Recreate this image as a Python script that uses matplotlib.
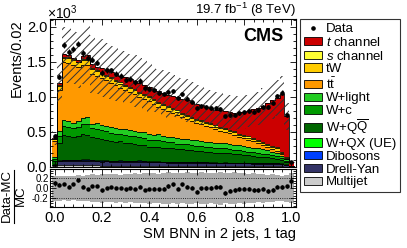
import numpy as np
import matplotlib
matplotlib.use("Agg")
import matplotlib.pyplot as plt
from matplotlib.patches import Patch
from matplotlib.lines import Line2D
from matplotlib.ticker import MultipleLocator, FuncFormatter

plt.rcParams['font.family'] = ['Liberation Sans', 'DejaVu Sans']
plt.rcParams['mathtext.fontset'] = 'custom'
plt.rcParams['mathtext.rm'] = 'Liberation Sans'
plt.rcParams['mathtext.it'] = 'Liberation Sans:italic'
plt.rcParams['axes.unicode_minus'] = False
plt.rcParams['hatch.linewidth'] = 0.7

# -------------------------------
# data: events per bin, in units of 10^3
# -------------------------------
multijet = [0.010, 0.025, 0.025, 0.025, 0.024, 0.024, 0.023, 0.023, 0.022, 0.022,
            0.021, 0.021, 0.020, 0.020, 0.020, 0.019, 0.019, 0.018, 0.018, 0.018,
            0.017, 0.017, 0.016, 0.016, 0.016, 0.015, 0.015, 0.015, 0.014, 0.014,
            0.014, 0.013, 0.013, 0.013, 0.012, 0.012, 0.012, 0.012, 0.011, 0.011,
            0.011, 0.011, 0.010, 0.010, 0.010, 0.010, 0.010, 0.009, 0.009, 0.006,
            0.001]
drell_yan = [0.020, 0.055, 0.060, 0.062, 0.060, 0.061, 0.063, 0.060, 0.058, 0.058,
             0.057, 0.058, 0.055, 0.055, 0.056, 0.054, 0.053, 0.052, 0.053, 0.051,
             0.050, 0.050, 0.050, 0.049, 0.048, 0.048, 0.047, 0.046, 0.047, 0.045,
             0.045, 0.044, 0.044, 0.043, 0.043, 0.042, 0.042, 0.041, 0.041, 0.040,
             0.040, 0.039, 0.039, 0.038, 0.038, 0.037, 0.036, 0.036, 0.034, 0.025,
             0.003]
dibosons = [0.004, 0.012, 0.014, 0.013, 0.014, 0.013, 0.013, 0.012, 0.013, 0.012,
            0.012, 0.012, 0.011, 0.011, 0.012, 0.011, 0.011, 0.010, 0.011, 0.010,
            0.010, 0.010, 0.010, 0.009, 0.009, 0.009, 0.009, 0.009, 0.008, 0.009,
            0.008, 0.008, 0.008, 0.008, 0.008, 0.007, 0.008, 0.007, 0.007, 0.007,
            0.007, 0.007, 0.006, 0.007, 0.006, 0.006, 0.006, 0.006, 0.005, 0.004,
            0.001]
w_qx = [0.002, 0.006, 0.006, 0.005, 0.006, 0.005, 0.008, 0.016, 0.006, 0.005,
        0.014, 0.006, 0.005, 0.005, 0.006, 0.005, 0.004, 0.005, 0.012, 0.005,
        0.004, 0.005, 0.004, 0.004, 0.005, 0.004, 0.004, 0.004, 0.004, 0.003,
        0.004, 0.004, 0.003, 0.004, 0.003, 0.003, 0.012, 0.003, 0.003, 0.003,
        0.003, 0.003, 0.003, 0.002, 0.003, 0.003, 0.002, 0.002, 0.002, 0.002,
        0.000]
w_qq = [0.05, 0.25, 0.35, 0.34, 0.33, 0.34, 0.36, 0.35, 0.33, 0.32,
        0.30, 0.29, 0.28, 0.27, 0.27, 0.26, 0.25, 0.24, 0.22, 0.23,
        0.21, 0.20, 0.21, 0.20, 0.19, 0.19, 0.18, 0.18, 0.17, 0.17,
        0.16, 0.16, 0.15, 0.15, 0.14, 0.14, 0.13, 0.13, 0.12, 0.12,
        0.11, 0.11, 0.10, 0.09, 0.09, 0.08, 0.07, 0.06, 0.05, 0.03,
        0.003]
w_c = [0.03, 0.10, 0.13, 0.13, 0.12, 0.13, 0.14, 0.15, 0.12, 0.13,
       0.12, 0.12, 0.12, 0.11, 0.11, 0.11, 0.11, 0.11, 0.11, 0.10,
       0.10, 0.10, 0.10, 0.09, 0.09, 0.09, 0.08, 0.08, 0.08, 0.075,
       0.075, 0.07, 0.07, 0.07, 0.065, 0.065, 0.06, 0.06, 0.06, 0.055,
       0.055, 0.05, 0.05, 0.05, 0.045, 0.045, 0.04, 0.04, 0.03, 0.02,
       0.002]
w_light = [0.02, 0.06, 0.08, 0.08, 0.07, 0.08, 0.09, 0.10, 0.07, 0.08,
           0.07, 0.08, 0.08, 0.08, 0.07, 0.08, 0.08, 0.08, 0.08, 0.08,
           0.08, 0.08, 0.08, 0.08, 0.075, 0.075, 0.075, 0.07, 0.075, 0.07,
           0.075, 0.075, 0.07, 0.075, 0.075, 0.07, 0.08, 0.07, 0.07, 0.075,
           0.07, 0.07, 0.07, 0.068, 0.065, 0.06, 0.055, 0.045, 0.03, 0.02,
           0.002]
ttbar = [0.234, 0.592, 0.825, 0.825, 0.826, 0.767, 0.763, 0.749, 0.711, 0.673,
         0.676, 0.653, 0.629, 0.619, 0.586, 0.561, 0.543, 0.525, 0.496, 0.476,
         0.469, 0.440, 0.391, 0.383, 0.368, 0.339, 0.331, 0.307, 0.282, 0.264,
         0.249, 0.235, 0.231, 0.206, 0.193, 0.179, 0.156, 0.157, 0.148, 0.119,
         0.114, 0.100, 0.092, 0.075, 0.063, 0.049, 0.041, 0.025, 0.020, 0.013,
         0.004]
tw = [0.025, 0.06, 0.07, 0.07, 0.07, 0.07, 0.07, 0.07, 0.065, 0.065,
      0.064, 0.063, 0.062, 0.061, 0.06, 0.06, 0.058, 0.057, 0.056, 0.055,
      0.054, 0.053, 0.052, 0.051, 0.05, 0.05, 0.048, 0.047, 0.046, 0.045,
      0.044, 0.042, 0.041, 0.04, 0.038, 0.036, 0.035, 0.034, 0.033, 0.032,
      0.031, 0.03, 0.029, 0.028, 0.027, 0.026, 0.025, 0.045, 0.02, 0.012,
      0.002]
s_chan = [0.005, 0.01, 0.012, 0.012, 0.013, 0.013, 0.013, 0.014, 0.014, 0.014,
          0.015, 0.015, 0.015, 0.016, 0.016, 0.016, 0.017, 0.017, 0.017, 0.018,
          0.018, 0.018, 0.018, 0.018, 0.018, 0.018, 0.018, 0.018, 0.018, 0.017,
          0.017, 0.017, 0.017, 0.017, 0.016, 0.016, 0.016, 0.016, 0.015, 0.015,
          0.015, 0.015, 0.014, 0.014, 0.014, 0.013, 0.013, 0.013, 0.012, 0.010,
          0.002]
t_chan = [0.010, 0.030, 0.038, 0.038, 0.027, 0.027, 0.037, 0.046, 0.061, 0.051,
          0.061, 0.062, 0.073, 0.083, 0.094, 0.104, 0.115, 0.116, 0.127, 0.127,
          0.128, 0.139, 0.150, 0.151, 0.162, 0.172, 0.184, 0.195, 0.206, 0.208,
          0.209, 0.211, 0.212, 0.213, 0.226, 0.238, 0.249, 0.250, 0.262, 0.303,
          0.334, 0.365, 0.407, 0.458, 0.509, 0.581, 0.652, 0.709, 0.828, 0.578,
          0.046]
data = [0.447, 1.284, 1.739, 1.640, 1.685, 1.760, 1.627, 1.558, 1.529, 1.487,
        1.340, 1.380, 1.377, 1.330, 1.300, 1.242, 1.260, 1.205, 1.230, 1.123,
        1.117, 1.099, 1.058, 1.040, 1.071, 1.081, 0.980, 1.043, 0.974, 0.929,
        0.837, 0.871, 0.860, 0.840, 0.841, 0.830, 0.720, 0.741, 0.739, 0.764,
        0.782, 0.792, 0.787, 0.806, 0.861, 0.855, 0.912, 1.015, 1.061, 0.742,
        0.075]
# relative MC uncertainty per bin
unc_rel = [0.25, 0.25, 0.24, 0.25, 0.24, 0.26, 0.25, 0.26, 0.28, 0.27,
           0.29, 0.28, 0.28, 0.29, 0.27, 0.29, 0.28, 0.30, 0.29, 0.30,
           0.31, 0.30, 0.29, 0.31, 0.32, 0.30, 0.31, 0.30, 0.32, 0.31,
           0.30, 0.32, 0.31, 0.30, 0.31, 0.33, 0.30, 0.31, 0.32, 0.30,
           0.31, 0.29, 0.30, 0.28, 0.29, 0.27, 0.28, 0.26, 0.25, 0.27,
           0.30]

# stack, bottom to top
stack = [
    ("Multijet", multijet, "#cccccc"),
    ("Drell-Yan", drell_yan, "#333366"),
    ("Dibosons", dibosons, "#0040ff"),
    ("W+QX (UE)", w_qx, "#00ff00"),
    (r"W+Q$\overline{\mathrm{Q}}$", w_qq, "#006600"),
    ("W+c", w_c, "#009900"),
    ("W+light", w_light, "#22cc22"),
    (r"t$\bar{\mathrm{t}}$", ttbar, "#ff9900"),
    ("tW", tw, "#ffcc00"),
    (r"$s$ channel", s_chan, "#ffff33"),
    (r"$t$ channel", t_chan, "#cc0000"),
]

edges = np.linspace(-0.01, 1.01, 52)
centers = 0.5 * (edges[:-1] + edges[1:])

fig = plt.figure(figsize=(4.07, 2.48), dpi=100)
W, H = 407.0, 248.0
ax = fig.add_axes([50 / W, 1 - 167 / H, 246 / W, 148 / H])
axr = fig.add_axes([50 / W, 1 - 207 / H, 246 / W, 38 / H])

bottom = np.zeros(len(centers))
for name, vals, col in stack:
    top = bottom + np.array(vals)
    ax.stairs(top, edges, baseline=bottom, fill=True, color=col, lw=0)
    ax.stairs(top, edges, baseline=None, color="k", lw=0.6)
    bottom = top
mc = bottom
u = np.array(unc_rel)
d = np.array(data)
derr = np.sqrt(d * 1000) / 1000

ax.stairs(mc * (1 + u), edges, baseline=mc * (1 - u), fill=True,
          facecolor="none", edgecolor="#333333", hatch="////", lw=0)
ax.errorbar(centers, d, yerr=derr, fmt="o", ms=2.3, color="k",
            elinewidth=0.8, capsize=0, zorder=5)

ax.set_xlim(-0.019, 1.019)
ax.set_ylim(0, 2.11)
ax.yaxis.set_major_locator(MultipleLocator(0.5))
ax.yaxis.set_minor_locator(MultipleLocator(0.1))
ax.yaxis.set_major_formatter(FuncFormatter(lambda v, p: f"{v:.1f}"))
ax.xaxis.set_major_locator(MultipleLocator(0.2))
ax.xaxis.set_minor_locator(MultipleLocator(0.04))
ax.tick_params(labelbottom=False)
ax.set_ylabel("Events/0.02", fontsize=10.5, loc="top", labelpad=2)

# ratio panel
ratio = (d - mc) / mc
rerr = derr / mc
axr.stairs(u, edges, baseline=-u, fill=True, color="#adadad", lw=0)
axr.axhline(0.2, ls=":", color="k", lw=0.6)
axr.axhline(-0.2, ls=":", color="k", lw=0.6)
axr.errorbar(centers, ratio, yerr=rerr, fmt="o", ms=2.2, color="k",
             elinewidth=0.7, capsize=0, zorder=5)
axr.set_xlim(-0.019, 1.019)
axr.set_ylim(-0.38, 0.38)
axr.set_yticks([-0.2, 0.0, 0.2])
axr.yaxis.set_minor_locator(MultipleLocator(0.05))
axr.yaxis.set_major_formatter(FuncFormatter(lambda v, p: f"{v:.1f}"))
axr.xaxis.set_major_locator(MultipleLocator(0.2))
axr.xaxis.set_minor_locator(MultipleLocator(0.04))
axr.xaxis.set_major_formatter(FuncFormatter(lambda v, p: f"{v:.1f}"))
axr.tick_params(axis="y", labelsize=7, pad=1)
axr.tick_params(axis="x", labelsize=10.5, pad=3)
axr.set_xlabel("SM BNN in 2 jets, 1 tag", fontsize=10.5, loc="right", labelpad=1)

for a in (ax, axr):
    a.tick_params(which="both", direction="in", top=True, right=True, width=0.6)
    a.tick_params(which="major", length=4)
    a.tick_params(which="minor", length=2)
    for sp in a.spines.values():
        sp.set_linewidth(0.8)
ax.tick_params(axis="y", labelsize=10.5, pad=2)

# ratio y label drawn as a rotated fraction
fig.text(7 / W, 1 - 196 / H, "Data-MC", rotation=90, fontsize=9.5,
         ha="center", va="center")
fig.text(21 / W, 1 - 196 / H, "MC", rotation=90, fontsize=9.5,
         ha="center", va="center")
fig.add_artist(Line2D([14 / W, 14 / W], [1 - 223 / H, 1 - 170 / H],
                      color="k", lw=0.8, transform=fig.transFigure))

fig.text(47 / W, 1 - 13 / H, r"$\times10^{3}$", fontsize=10, ha="left", va="center")
fig.text(296 / W, 1 - 10 / H, r"19.7 fb$^{-1}$ (8 TeV)", fontsize=9.5,
         ha="right", va="center")
ax.text(0.951, 0.94, "CMS", transform=ax.transAxes, fontsize=13,
        fontweight="bold", ha="right", va="top")

handles = [Line2D([], [], marker="o", ms=2.3, color="k", lw=0.8, ls="none")]
labels = ["Data"]
for name, vals, col in stack[::-1]:
    handles.append(Patch(facecolor=col, edgecolor="k", lw=0.6))
    labels.append(name)
leg = fig.legend(handles, labels, loc="upper left",
                 bbox_to_anchor=(300 / W, 1 - 19 / H), borderaxespad=0,
                 fontsize=9.5, frameon=True, fancybox=False, edgecolor="k",
                 handlelength=1.4, handleheight=0.6, handletextpad=0.25,
                 labelspacing=0.06, borderpad=0.3)
leg.get_frame().set_linewidth(0.8)

fig.savefig("out.png", dpi=100)
